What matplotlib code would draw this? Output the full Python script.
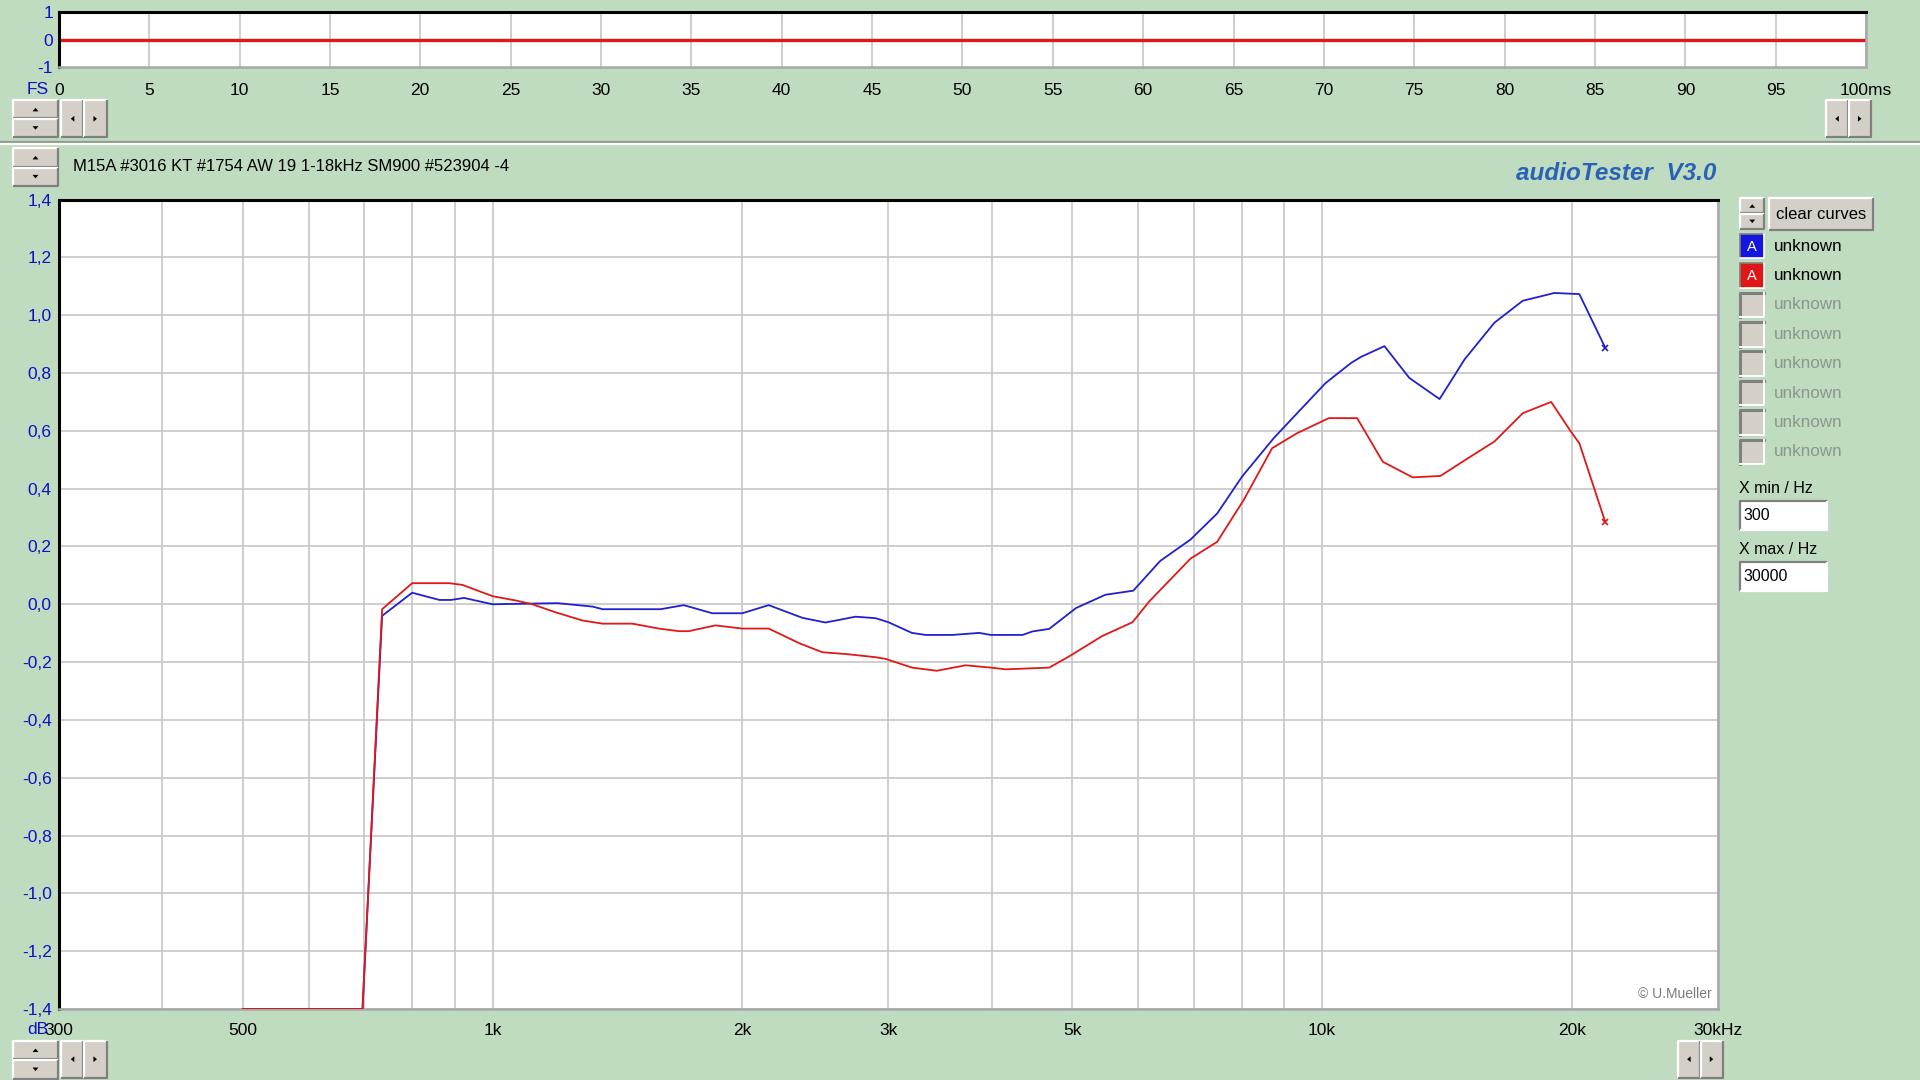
import matplotlib
matplotlib.use("Agg")
import matplotlib.pyplot as plt
from matplotlib.patches import Rectangle, Polygon
from matplotlib.ticker import FixedLocator, NullFormatter

# ---------------- data ----------------
blue_freq = [500, 697, 736, 800, 863, 891, 924, 1000, 1197, 1320, 1357, 1594, 1700,
             1840, 2000, 2152, 2364, 2520, 2739, 2895, 3000, 3203, 3327, 3585, 3861,
             3985, 4355, 4474, 4689, 5050, 5480, 5920, 6380, 6940, 7472, 8008, 8744,
             9330, 10093, 10838, 11142, 11888, 12737, 13854, 14847, 16130, 17450,
             19055, 20420, 21946]
blue_db = [-1.40, -1.40, -0.04, 0.04, 0.015, 0.015, 0.022, 0.0, 0.004, -0.008, -0.017,
           -0.017, -0.003, -0.031, -0.031, -0.003, -0.047, -0.063, -0.043, -0.048,
           -0.062, -0.099, -0.106, -0.106, -0.099, -0.106, -0.106, -0.094, -0.085,
           -0.013, 0.033, 0.047, 0.150, 0.224, 0.314, 0.442, 0.575, 0.661, 0.765,
           0.835, 0.856, 0.893, 0.783, 0.710, 0.847, 0.974, 1.050, 1.077, 1.073, 0.887]

red_freq = [500, 697, 736, 800, 887, 920, 1000, 1067, 1117, 1192, 1283, 1357, 1474,
            1587, 1678, 1724, 1856, 2000, 2152, 2344, 2498, 2664, 2895, 2978, 3203,
            3430, 3717, 3985, 4154, 4689, 4957, 5429, 5908, 6193, 6940, 7472, 8044,
            8704, 9330, 10187, 11020, 11833, 12856, 13886, 14984, 16130, 17450,
            18882, 19950, 20420, 21946]
red_db = [-1.40, -1.40, -0.017, 0.073, 0.073, 0.067, 0.028, 0.013, 0.0, -0.028,
          -0.056, -0.067, -0.067, -0.084, -0.093, -0.093, -0.073, -0.084, -0.084,
          -0.135, -0.166, -0.172, -0.183, -0.189, -0.219, -0.230, -0.211, -0.219,
          -0.225, -0.219, -0.180, -0.110, -0.062, 0.011, 0.158, 0.216, 0.361, 0.540,
          0.592, 0.644, 0.644, 0.493, 0.439, 0.444, 0.505, 0.563, 0.661, 0.700,
          0.597, 0.557, 0.284]

time_ms = [0, 100]
time_level = [0, 0]

freq_tick_values = [300, 500, 1000, 2000, 3000, 5000, 10000, 20000, 30000]
freq_tick_labels = ["300", "500", "1k", "2k", "3k", "5k", "10k", "20k", "30kHz"]
freq_grid_minor = [400, 600, 700, 800, 900, 4000, 6000, 7000, 8000, 9000]
db_ticks = [-1.4, -1.2, -1.0, -0.8, -0.6, -0.4, -0.2, 0.0, 0.2, 0.4, 0.6, 0.8, 1.0, 1.2, 1.4]
time_ticks = [0, 5, 10, 15, 20, 25, 30, 35, 40, 45, 50, 55, 60, 65, 70, 75, 80, 85, 90, 95, 100]
time_labels = [str(t) for t in time_ticks[:-1]] + ["100ms"]
level_ticks = [-1, 0, 1]

title = "M15A #3016 KT #1754 AW 19 1-18kHz SM900 #523904 -4"
brand = "audioTester  V3.0"
legend_labels = ["unknown"] * 8
legend_colors = ["#1515E0", "#E01515", None, None, None, None, None, None]

# ---------------- styles ----------------
BG = "#C0DCC0"
FACE = "#D4D0C8"
GRID = "#C6C6C6"
TICKBLUE = "#1010C8"
BLUE = "#2020D0"
RED = "#E01818"
FONT = ["Liberation Sans", "DejaVu Sans"]
plt.rcParams["font.family"] = FONT

W, H = 1568.0, 882.0


def frac_x(x):
    return x / W


def frac_y(y):
    return 1 - y / H


fig = plt.figure(figsize=(19.2, 10.8), dpi=100, facecolor=BG)

ui = fig.add_axes([0, 0, 1, 1])
ui.set_xlim(0, W)
ui.set_ylim(H, 0)
ui.axis("off")
ui.set_zorder(0)


def bevel(x0, y0, x1, y1, face=FACE, raised=True):
    ui.add_patch(Rectangle((x0, y0), x1 - x0, y1 - y0, facecolor=face, edgecolor="none", zorder=2))
    light, dark = ("white", "#808080") if raised else ("#808080", "white")
    ui.plot([x0, x0, x1], [y1, y0, y0], color=light, lw=1.6, zorder=3, solid_capstyle="butt")
    ui.plot([x0, x1, x1], [y1, y1, y0], color=dark, lw=1.6, zorder=3, solid_capstyle="butt")


def tri(cx, cy, direction, s=2.6):
    if direction == "up":
        pts = [(cx - s, cy + s * 0.6), (cx + s, cy + s * 0.6), (cx, cy - s * 0.6)]
    elif direction == "down":
        pts = [(cx - s, cy - s * 0.6), (cx + s, cy - s * 0.6), (cx, cy + s * 0.6)]
    elif direction == "left":
        pts = [(cx + s * 0.6, cy - s), (cx + s * 0.6, cy + s), (cx - s * 0.6, cy)]
    else:
        pts = [(cx - s * 0.6, cy - s), (cx - s * 0.6, cy + s), (cx + s * 0.6, cy)]
    ui.add_patch(Polygon(pts, closed=True, facecolor="black", edgecolor="none", zorder=4))


def updown(x0, x1, y0, y1):
    ym = (y0 + y1) / 2
    bevel(x0, y0, x1, ym - 0.5)
    bevel(x0, ym + 0.5, x1, y1)
    tri((x0 + x1) / 2, (y0 + ym) / 2, "up", 2.4)
    tri((x0 + x1) / 2, (ym + y1) / 2, "down", 2.4)


def leftright(x0, x1, y0, y1):
    xm = (x0 + x1) / 2
    bevel(x0, y0, xm - 0.5, y1)
    bevel(xm + 0.5, y0, x1, y1)
    tri((x0 + xm) / 2, (y0 + y1) / 2, "left", 2.4)
    tri((xm + x1) / 2, (y0 + y1) / 2, "right", 2.4)


# top controls
updown(11, 47, 82, 112)
leftright(50, 87, 82, 112)
leftright(1491, 1528, 82, 112)
# separator
ui.plot([0, W], [116, 116], color="#8C9C8C", lw=1.6, zorder=3)
ui.plot([0, W], [118, 118], color="white", lw=1.6, zorder=3)
# panel controls
updown(11, 47, 121, 152)
ui.text(60, 136, title, fontsize=12, color="black", va="center", ha="left")
ui.text(1402, 142, brand, fontsize=17.5, color="#2A62B8", va="center", ha="right",
        fontstyle="italic", fontweight="bold")
# bottom controls
updown(11, 47, 850, 881)
leftright(50, 87, 850, 880)
leftright(1370, 1407, 850, 880)

# right legend panel
updown(1421, 1441, 162, 187)
bevel(1445, 162, 1530, 188)
ui.text(1487.5, 175, "clear curves", fontsize=12, ha="center", va="center", color="black")
for i, (lab, col) in enumerate(zip(legend_labels, legend_colors)):
    yc = 201 + 24 * i
    if col is not None:
        ui.add_patch(Rectangle((1421, yc - 10), 20, 20, facecolor=col, edgecolor="none", zorder=2))
        ui.plot([1421, 1421, 1441], [yc + 10, yc - 10, yc - 10], color="#808080", lw=1.2, zorder=3)
        ui.plot([1421, 1441, 1441], [yc + 10, yc + 10, yc - 10], color="white", lw=1.2, zorder=3)
        ui.text(1431, yc + 0.5, "A", fontsize=10.5, color="white", ha="center", va="center", zorder=4)
        tcol = "black"
    else:
        ui.add_patch(Rectangle((1421, yc - 10), 20, 20, facecolor=FACE, edgecolor="none", zorder=2))
        ui.plot([1421, 1421, 1441], [yc + 10, yc - 10, yc - 10], color="#808080", lw=2.2, zorder=3)
        ui.plot([1421, 1441, 1441], [yc + 10, yc + 10, yc - 10], color="white", lw=1.4, zorder=3)
        tcol = "#8C968C"
    ui.text(1449, yc, lab, fontsize=12.3, color=tcol, ha="left", va="center")

ui.text(1420, 399, "X min / Hz", fontsize=11.5, ha="left", va="center", color="black")
bevel(1421, 409, 1492, 433, face="white", raised=False)
ui.text(1424, 421, "300", fontsize=11.5, ha="left", va="center", color="black")
ui.text(1420, 449, "X max / Hz", fontsize=11.5, ha="left", va="center", color="black")
bevel(1421, 459, 1492, 483, face="white", raised=False)
ui.text(1424, 471, "30000", fontsize=11.5, ha="left", va="center", color="black")

ui.text(22, 73, "FS", fontsize=12.5, color=TICKBLUE, ha="left", va="center")
ui.text(22, 841, "dB", fontsize=12.5, color=TICKBLUE, ha="left", va="center", zorder=5)


def style_frame(ax):
    ax.spines["top"].set_color("black")
    ax.spines["left"].set_color("black")
    ax.spines["top"].set_linewidth(2.2)
    ax.spines["left"].set_linewidth(2.2)
    ax.spines["bottom"].set_color("#A8A8A8")
    ax.spines["right"].set_color("#A8A8A8")
    ax.spines["bottom"].set_linewidth(1.8)
    ax.spines["right"].set_linewidth(1.8)
    ax.set_facecolor("white")


# ---------------- top time strip ----------------
axt = fig.add_axes([frac_x(48), frac_y(55), frac_x(1524) - frac_x(48), 45 / H])
axt.set_zorder(2)
style_frame(axt)
axt.plot(time_ms, time_level, color=RED, lw=2.4, solid_capstyle="butt")
axt.set_xlim(0, 100)
axt.set_ylim(-1, 1)
axt.set_xticks(time_ticks)
axt.set_xticklabels(time_labels)
axt.set_yticks(level_ticks)
axt.set_yticklabels([str(v) for v in level_ticks])
axt.grid(axis="x", color=GRID, lw=1.2)
axt.set_axisbelow(True)
axt.tick_params(axis="x", length=0, pad=11, labelsize=12.5, colors="black")
axt.tick_params(axis="y", length=0, pad=4, labelsize=12.5, labelcolor=TICKBLUE)

# ---------------- main frequency response ----------------
ax = fig.add_axes([frac_x(48), frac_y(824), frac_x(1403) - frac_x(48), (824 - 163) / H])
ax.set_zorder(2)
style_frame(ax)
ax.set_xscale("log")
ax.set_xlim(300, 30000)
ax.set_ylim(-1.4, 1.4)
ax.xaxis.set_major_locator(FixedLocator(freq_tick_values))
ax.set_xticklabels(freq_tick_labels)
ax.xaxis.set_minor_locator(FixedLocator(freq_grid_minor))
ax.xaxis.set_minor_formatter(NullFormatter())
ax.set_yticks(db_ticks)
ax.set_yticklabels([f"{v:.1f}".replace(".", ",") for v in db_ticks])
ax.grid(which="both", color=GRID, lw=1.2)
ax.set_axisbelow(True)
ax.tick_params(axis="x", which="both", length=0, pad=10, labelsize=12.5, colors="black")
ax.tick_params(axis="y", length=0, pad=5, labelsize=12.5, labelcolor=TICKBLUE)

ax.plot(blue_freq, blue_db, color=BLUE, lw=1.3, clip_on=True, zorder=3)
ax.plot(red_freq, red_db, color=RED, lw=1.3, clip_on=True, zorder=4)
ax.plot(blue_freq[-1:], blue_db[-1:], marker="x", color=BLUE, ms=5, mew=1.2, zorder=5)
ax.plot(red_freq[-1:], red_db[-1:], marker="x", color=RED, ms=5, mew=1.2, zorder=5)

ax.text(0.996, 0.018, "\u00a9 U.Mueller", transform=ax.transAxes, ha="right", va="center",
        fontsize=10, color="#7A7A7A")

fig.savefig("out.png", dpi=100, facecolor=BG)
